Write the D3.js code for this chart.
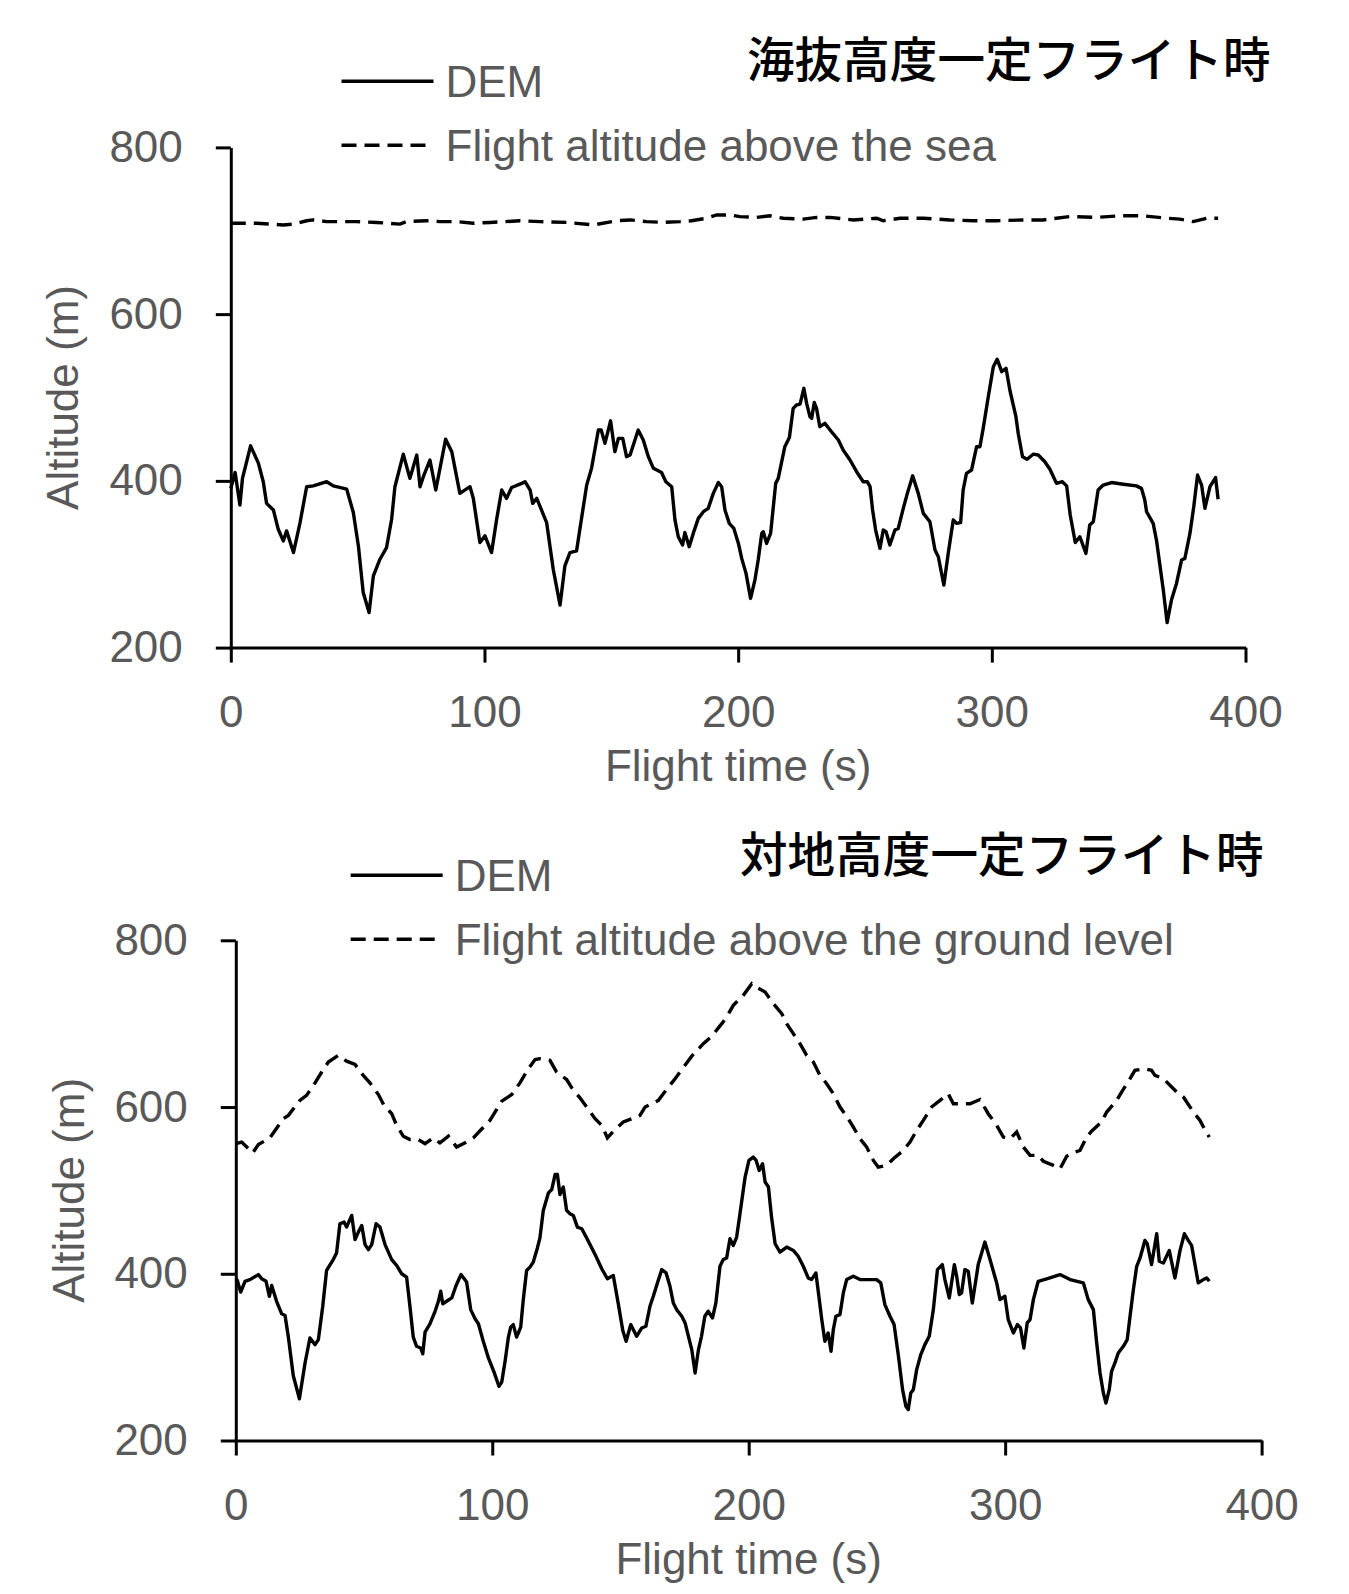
<!DOCTYPE html>
<html>
<head>
<meta charset="utf-8">
<script src="https://d3js.org/d3.v7.min.js"></script>
<style>
  body { margin: 0; background: white; }
  .lbl { font-family: "Liberation Sans", Arial, sans-serif; font-size: 44px; fill: #595959; }
  .ttl { font-family: "Noto Sans CJK JP", sans-serif; font-size: 47.6px; font-weight: 500; fill: #000; }
</style>
</head>
<body>
<svg id="chart" width="1349" height="1594"></svg>
<script>
// ---- data: [flight time (s), altitude (m)] ----
const xTicks = [0, 100, 200, 300, 400];
const yTicks = [200, 400, 600, 800];

// upper panel: constant altitude above sea
const seaDEM = [[0,391],[1.7,410],[3.6,371],[4.6,403],[7.8,442],[10.9,421],[12.8,399],[14.1,373],[16.8,365],[18.7,342],[20.7,328],[22.0,340],[24.7,314],[27.3,350],[29.9,393],[32.5,394],[37.8,399],[40.4,394],[45.7,390],[48.3,362],[50.3,322],[52.2,266],[54.5,242],[56.2,286],[58.8,306],[61.4,320],[63.4,354],[64.7,393],[68.0,432],[70.6,403],[73.3,431],[74.6,393],[75.9,405],[78.5,425],[80.8,389],[84.7,450],[87.1,435],[90.3,385],[94.3,393],[95.6,379],[98.2,326],[100.2,334],[102.8,314],[104.8,354],[106.8,389],[108.7,379],[110.7,392],[114.7,397],[116.0,399],[118.0,389],[119.0,373],[120.6,379],[124.5,350],[127.1,294],[129.8,251],[131.7,298],[133.7,314],[136.3,316],[137.6,342],[140.3,395],[142.2,415],[144.9,461],[146.0,461],[147.5,445],[149.7,472],[151.4,435],[152.8,451],[154.5,451],[156.0,429],[157.4,431],[160.6,461],[162.6,449],[164.6,429],[166.6,415],[169.8,410],[171.5,399],[173.8,393],[175.1,353],[176.4,333],[178.1,323],[179.0,338],[180.7,321],[182.3,337],[184.3,355],[186.3,363],[188.2,367],[190.2,385],[192.2,398],[193.5,393],[194.8,365],[196.5,349],[198.3,343],[200.1,325],[201.4,307],[203.1,289],[204.9,259],[206.6,281],[207.9,305],[209.3,337],[209.9,339],[211.2,325],[212.8,337],[214.8,397],[215.8,403],[218.4,441],[220.2,452],[221.7,487],[223.0,491],[224.4,492],[225.9,511],[227.0,493],[228.3,477],[229.0,475],[230.0,494],[230.9,487],[232.2,465],[234.2,469],[236.8,459],[239.5,449],[241.4,437],[244.1,425],[246.7,411],[249.3,399],[250.9,399],[252.0,393],[253.0,365],[254.2,341],[255.9,319],[257.2,341],[258.3,339],[259.8,323],[261.8,341],[263.1,343],[265.1,367],[266.7,385],[268.8,406],[271.0,385],[273.0,361],[275.6,351],[277.6,317],[278.9,309],[281.1,275],[282.8,313],[284.8,353],[286.1,349],[287.7,350],[288.7,389],[290.0,409],[292.0,413],[294.0,441],[295.3,441],[296.6,463],[298.6,501],[300.6,537],[302.1,546],[303.9,531],[305.6,535],[307.1,509],[309.5,477],[310.4,457],[312.1,429],[313.9,426],[316.3,432],[318.3,431],[320.9,423],[322.9,414],[325.5,397],[327.8,399],[329.5,394],[330.9,359],[332.9,326],[334.7,333],[337.1,313],[338.6,347],[340.0,351],[341.9,389],[343.9,395],[347.2,398],[351.8,396],[357.0,394],[359.0,391],[360.3,377],[361.0,363],[363.6,349],[364.9,329],[367.6,269],[369.1,230],[370.8,257],[372.8,277],[374.8,305],[376.1,307],[378.1,337],[379.6,369],[381.1,407],[382.7,395],[384.0,367],[386.0,393],[388.2,404],[389.2,378]];

const seaFlight = [[0,709],[10.2,709],[20.7,707],[24.6,708],[29.9,712],[32.5,713],[37.8,711],[49.6,711],[57.5,710],[66.7,708],[69.3,711],[77.2,712],[82.5,711],[89.0,711],[95.6,709],[102.2,710],[114.0,712],[121.9,711],[132.4,710],[142.9,707],[152.1,712],[157.4,713],[163.9,711],[170.5,710],[177.1,711],[181.6,712],[187.6,715],[191.5,719],[196.8,719],[200.7,717],[207.3,716],[212.5,718],[217.8,715],[225.7,714],[230.9,716],[236.2,716],[245.4,713],[254.6,715],[257.2,712],[263.8,715],[273.0,715],[283.5,713],[292.7,712],[301.9,712],[312.4,713],[320.3,713],[330.8,717],[341.3,716],[350.5,718],[359.7,718],[368.9,715],[374.1,714],[379.4,711],[384.6,715],[389.2,715]];

// lower panel: constant altitude above ground
const gndDEM = [[0,394],[0.6,392],[1.9,378],[3.6,391],[5.5,393],[8.8,399],[10.1,394],[11.8,391],[13.1,373],[14.0,386],[15.9,367],[17.9,352],[19.2,350],[20.5,324],[22.4,278],[24.8,250],[27.0,293],[28.9,323],[30.9,315],[32.2,321],[33.9,361],[35.4,404],[38.0,417],[39.3,425],[40.6,460],[42.2,462],[43.2,456],[45.2,470],[46.5,441],[47.8,450],[49.1,458],[50.4,435],[51.7,429],[53.0,435],[54.7,460],[56.2,456],[58.2,435],[60.8,417],[62.7,410],[64.7,400],[66.6,396],[67.9,361],[69.2,324],[70.5,313],[72.1,311],[72.9,304],[73.8,330],[75.7,340],[77.7,355],[79.0,367],[79.9,379],[80.7,364],[82.2,367],[84.2,371],[85.9,386],[87.8,399],[90.0,390],[91.6,357],[93.3,346],[94.6,340],[96.5,319],[98.5,299],[100.7,282],[102.6,265],[103.7,270],[105.0,295],[106.3,324],[107.2,336],[108.2,339],[109.5,324],[111.1,336],[112.1,369],[113.4,404],[114.7,408],[116.0,414],[117.6,431],[118.6,443],[119.9,476],[121.9,497],[123.2,501],[124.5,519],[125.4,519],[126.4,495],[127.7,504],[129.0,476],[130.3,472],[131.6,470],[133.2,456],[134.9,454],[136.8,443],[140.1,423],[142.7,406],[144.9,394],[147.2,398],[149.2,363],[150.9,332],[152.2,319],[154.0,339],[156.3,325],[158.3,335],[159.9,337],[161.5,361],[162.8,373],[164.4,389],[166.1,405],[167.8,401],[169.3,385],[170.6,365],[171.9,357],[173.9,349],[175.2,341],[176.5,325],[177.8,309],[179.1,281],[180.4,309],[181.6,325],[182.9,349],[184.2,355],[185.9,347],[187.2,365],[188.8,409],[190.1,417],[191.4,419],[192.7,442],[194.0,434],[195.3,444],[196.6,472],[198.6,516],[200.1,536],[201.8,540],[202.9,536],[204.1,524],[205.4,532],[206.4,510],[207.7,504],[208.9,468],[210.3,436],[212.2,426],[214.8,432],[217.4,428],[219.3,421],[221.3,409],[223.2,395],[224.5,393],[226.2,401],[227.2,377],[228.5,345],[229.7,319],[231.0,329],[232.1,307],[233.0,333],[234.0,349],[235.6,351],[236.9,377],[238.2,393],[240.8,397],[243.4,393],[247.3,393],[249.9,393],[251.5,389],[253.1,363],[255.1,349],[256.7,339],[258.4,301],[260.0,261],[261.3,241],[262.2,237],[263.2,257],[264.2,261],[265.5,285],[267.1,303],[268.7,315],[270.4,325],[272.0,357],[273.6,405],[275.5,411],[276.5,393],[278.2,371],[280.2,411],[281.1,397],[282.1,375],[283.0,377],[284.3,405],[285.6,403],[287.2,365],[289.5,411],[292.1,438],[294.1,417],[296.7,389],[298.0,369],[299.9,373],[301.2,345],[303.2,329],[304.8,339],[306.0,335],[307.3,311],[308.6,341],[309.7,345],[311.0,369],[312.9,391],[316.2,394],[321.4,399],[325.3,393],[330.5,389],[332.4,369],[334.4,357],[335.7,317],[337.0,281],[338.3,257],[339.3,245],[340.6,261],[341.5,283],[342.8,293],[344.1,305],[346.1,313],[347.6,321],[348.7,349],[350.0,381],[351.3,409],[352.6,419],[354.5,440],[355.4,436],[357.1,411],[359.1,448],[360.1,415],[361.7,413],[364.0,428],[366.2,395],[368.2,428],[369.9,448],[371.4,440],[372.7,434],[375.3,389],[377.3,393],[378.6,395],[379.6,391]];

const gndFlight = [[0,556],[2.3,558],[6.6,545],[8.8,555],[13.3,563],[18.5,586],[20.5,590],[25.0,608],[27.6,614],[30.9,629],[33.5,642],[36.1,654],[40.0,662],[43.2,655],[46.5,651],[49.7,638],[52.3,629],[55.6,615],[57.8,602],[60.8,592],[62.7,578],[65.3,565],[67.9,561],[71.2,561],[73.8,556],[77.0,563],[79.6,557],[82.9,565],[86.1,552],[89.4,557],[92.6,563],[99.1,584],[103.7,607],[107.6,615],[110.8,629],[114.1,646],[116.7,657],[118.6,658],[122.5,656],[125.1,642],[129.0,633],[131.0,623],[134.2,611],[136.8,600],[140.1,586],[142.7,578],[144.9,563],[147.2,571],[151.1,582],[154.4,586],[157.6,590],[159.6,600],[164.8,608],[166.7,616],[171.3,634],[173.2,642],[177.8,661],[182.3,676],[185.6,685],[189.5,700],[191.4,708],[194.0,722],[197.9,734],[201.2,748],[202.8,744],[206.4,738],[209.6,724],[212.9,712],[214.8,700],[217.4,688],[220.0,676],[222.6,662],[225.2,654],[227.8,638],[230.4,628],[233.0,616],[235.6,600],[238.8,586],[240.8,576],[243.4,562],[246.0,552],[248.6,536],[250.5,528],[253.8,530],[256.4,538],[260.3,548],[262.9,558],[265.5,572],[268.1,584],[271.3,600],[274.6,608],[277.8,616],[279.8,604],[283.7,604],[286.3,604],[290.2,609],[293.4,592],[296.7,578],[299.3,564],[301.9,562],[304.5,570],[307.1,552],[309.7,542],[312.9,542],[314.9,535],[318.8,530],[321.4,526],[324.0,541],[327.2,546],[329.2,548],[331.8,564],[333.7,571],[337.6,582],[339.6,594],[343.5,608],[345.4,618],[348.7,634],[350.6,644],[354.5,646],[357.1,644],[358.4,638],[361.7,634],[366.9,618],[369.5,612],[373.4,594],[376.0,584],[378.0,572],[379.6,564]];

const titles = ["海抜高度一定フライト時", "対地高度一定フライト時"];
const legendNames = [["DEM", "Flight altitude above the sea"], ["DEM", "Flight altitude above the ground level"]];

const svg = d3.select("#chart");

// draws one panel; box holds the pixel frame of the plot area
function drawPanel(box, dem, flight, title, names) {
  const x = d3.scaleLinear().domain([0, 400]).range([box.left, box.right]);
  const y = d3.scaleLinear().domain([200, 800]).range([box.bottom, box.top]);

  const g = svg.append("g");

  const xAxis = d3.axisBottom(x).tickValues(xTicks).tickSize(15).tickSizeOuter(0).tickPadding(33);
  const yAxis = d3.axisLeft(y).tickValues(yTicks).tickSize(15).tickSizeOuter(0).tickPadding(33);

  g.append("g").attr("transform", "translate(0," + box.bottom + ")").call(xAxis);
  g.append("g").attr("transform", "translate(" + box.left + ",0)").call(yAxis);

  g.selectAll(".domain, .tick line").attr("stroke", "#000").attr("stroke-width", 3);
  g.selectAll(".tick text").attr("class", "lbl").attr("font-size", null).attr("font-family", null);

  // axis titles
  g.append("text").attr("class", "lbl")
    .attr("x", (box.left + box.right) / 2).attr("y", box.bottom + 133.5)
    .attr("text-anchor", "middle").text("Flight time (s)");
  g.append("text").attr("class", "lbl")
    .attr("transform", "translate(" + box.yTitleX + "," + (box.top + box.bottom) / 2 + ") rotate(-90)")
    .attr("text-anchor", "middle").text("Altitude (m)");

  const line = d3.line().x(d => x(d[0])).y(d => y(d[1]));

  g.append("path").datum(flight).attr("d", line)
    .attr("fill", "none").attr("stroke", "#000").attr("stroke-width", 3.4)
    .attr("stroke-dasharray", "15,8");
  g.append("path").datum(dem).attr("d", line)
    .attr("fill", "none").attr("stroke", "#000").attr("stroke-width", 3.4)
    .attr("stroke-linejoin", "round");

  // legend
  const lg = g.append("g").attr("transform", "translate(" + box.legX + "," + box.legY + ")");
  lg.append("line").attr("x1", 0).attr("x2", 92).attr("y1", 0).attr("y2", 0)
    .attr("stroke", "#000").attr("stroke-width", 3.4);
  lg.append("text").attr("class", "lbl").attr("x", 104).attr("y", 15.5).text(names[0]);
  lg.append("line").attr("x1", 0).attr("x2", 92).attr("y1", 64).attr("y2", 64)
    .attr("stroke", "#000").attr("stroke-width", 3.4).attr("stroke-dasharray", "15,8");
  lg.append("text").attr("class", "lbl").attr("x", 104).attr("y", 79.5).text(names[1]);

  g.append("text").attr("class", "ttl").attr("x", box.titleX).attr("y", box.titleY).text(title);
}

drawPanel({left: 230.8, right: 1245.5, top: 147.4, bottom: 647.6, yTitleX: 78,
           legX: 341.5, legY: 81.3, titleX: 747, titleY: 77},
          seaDEM, seaFlight, titles[0], legendNames[0]);

drawPanel({left: 235.8, right: 1261.6, top: 940.3, bottom: 1440.5, yTitleX: 84,
           legX: 350.7, legY: 875.3, titleX: 740, titleY: 872},
          gndDEM, gndFlight, titles[1], legendNames[1]);
</script>
</body>
</html>
